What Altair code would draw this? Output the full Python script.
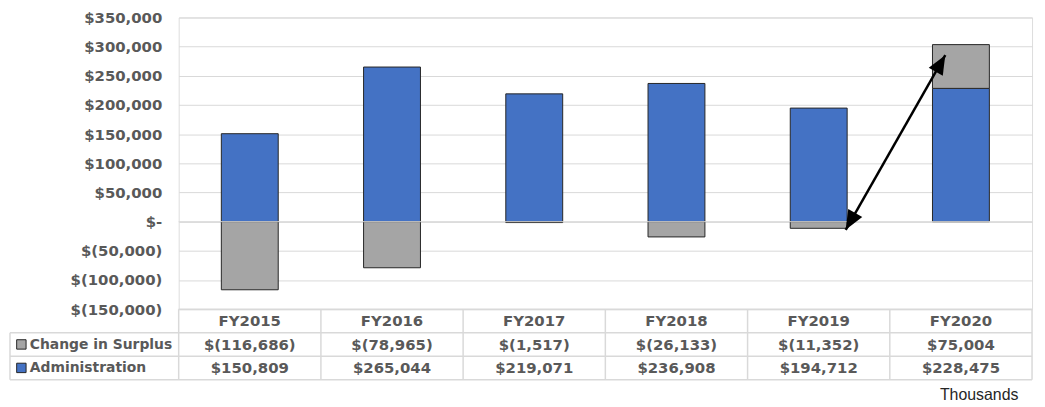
import math
import altair as alt
import pandas as pd

# ---------------- data ----------------
years = ["FY2015", "FY2016", "FY2017", "FY2018", "FY2019", "FY2020"]
administration = [150809, 265044, 219071, 236908, 194712, 228475]
change_in_surplus = [-116686, -78965, -1517, -26133, -11352, 75004]
series_names = ["Change in Surplus", "Administration"]
series_colors = ["#A5A5A5", "#4472C4"]
y_ticks = list(range(-150000, 350001, 50000))
arrow_x = [4.69, 5.39]          # FY2019 -> FY2020 annotation arrow (column units)
arrow_y = [-13900, 285400]
unit_note = "Thousands"

# ---------------- layout constants ----------------
W, H = 860, 294
NCOL = len(years)
Y_DOM = [-150000, 350000]
TEXT = "#595959"
GRIDC = "#D9D9D9"
FONT = "DejaVu Sans"
LABEL_COL = -1.186  # left edge of the table's label column, in column units

def acct(v):
    return f"$({abs(v):,})" if v < 0 else f"${v:,}"

# ---------------- bars ----------------
rows = []
for i, (yr, a, s) in enumerate(zip(years, administration, change_in_surplus)):
    rows.append(dict(year=yr, series="Administration", x=i + 0.3, x2=i + 0.7, y0=0, y1=a))
    base = a if s > 0 else 0
    rows.append(dict(year=yr, series="Change in Surplus", x=i + 0.3, x2=i + 0.7, y0=base, y1=base + s))
bars_df = pd.DataFrame(rows)

xscale = alt.Scale(domain=[0, NCOL], nice=False, zero=False)
yscale = alt.Scale(domain=Y_DOM, nice=False, zero=False)
color_scale = alt.Scale(domain=series_names, range=series_colors)

label_expr = (
    "datum.value < 0 ? '$(' + format(-datum.value, ',') + ')' : "
    "(datum.value == 0 ? '$-\u2007\u2009' : '$' + format(datum.value, ',') + '\u2009')"
)
yaxis = alt.Axis(
    values=y_ticks, labelExpr=label_expr, grid=True, gridColor=GRIDC, gridWidth=1,
    domain=False, ticks=False, labelFont=FONT, labelFontWeight="bold",
    labelFontSize=15, labelColor=TEXT, labelPadding=17, title=None,
    labelOverlap=False, labelBound=False, labelFlush=False,
)

bars = alt.Chart(bars_df).mark_bar(stroke="#262626", strokeWidth=1).encode(
    x=alt.X("x:Q", scale=xscale, axis=None),
    x2="x2:Q",
    y=alt.Y("y0:Q", scale=yscale, axis=yaxis),
    y2="y1:Q",
    color=alt.Color("series:N", scale=color_scale, legend=None),
)

zero_df = pd.DataFrame({"x": [0], "x2": [NCOL], "y": [0]})
zero_line = alt.Chart(zero_df).mark_rule(color=GRIDC, strokeWidth=1).encode(
    x=alt.X("x:Q", scale=xscale, axis=None), x2="x2:Q",
    y=alt.Y("y:Q", scale=yscale, axis=yaxis),
)

# ---------------- arrow ----------------
arrow_df = pd.DataFrame({"x": [arrow_x[0]], "x2": [arrow_x[1]], "y": [arrow_y[0]], "y2": [arrow_y[1]]})
arrow_line = alt.Chart(arrow_df).mark_rule(color="black", strokeWidth=2.5).encode(
    x=alt.X("x:Q", scale=xscale, axis=None), x2="x2:Q",
    y=alt.Y("y:Q", scale=yscale, axis=yaxis), y2="y2:Q",
)
dx_px = (arrow_x[1] - arrow_x[0]) * W / NCOL
dy_px = (arrow_y[1] - arrow_y[0]) * H / (Y_DOM[1] - Y_DOM[0])
ang = math.degrees(math.atan2(dx_px, dy_px))
head_df = pd.DataFrame({"x": arrow_x, "y": arrow_y, "angle": [ang + 180, ang]})
head_shape = "M0,0L-0.42,1L0.42,1Z"
arrow_heads = alt.Chart(head_df).mark_point(
    shape=head_shape, filled=True, color="black", size=1500, opacity=1, strokeWidth=0
).encode(
    x=alt.X("x:Q", scale=xscale, axis=None),
    y=alt.Y("y:Q", scale=yscale, axis=yaxis),
    angle=alt.Angle("angle:Q", scale=None),
)

value_layer = alt.layer(bars, zero_line, arrow_line, arrow_heads)

# ---------------- data table ----------------
tscale = alt.Scale(domain=[0, 3], range=[H, H + 71], nice=False, zero=False)

seg = []
seg.append(dict(x=0, x2=NCOL, y=0, y2=0))
for r in (1, 2, 3):
    seg.append(dict(x=LABEL_COL, x2=NCOL, y=r, y2=r))
for c in range(NCOL + 1):
    seg.append(dict(x=c, x2=c, y=0, y2=3))
seg.append(dict(x=LABEL_COL, x2=LABEL_COL, y=1, y2=3))
seg_df = pd.DataFrame(seg)
table_lines = alt.Chart(seg_df).mark_rule(color=GRIDC, strokeWidth=1.5).encode(
    x=alt.X("x:Q", scale=xscale, axis=None), x2="x2:Q",
    y=alt.Y("y:Q", scale=tscale, axis=None), y2="y2:Q",
)

cells = []
for i, yr in enumerate(years):
    cells.append(dict(x=i + 0.5, r=0.5, t=yr))
    cells.append(dict(x=i + 0.5, r=1.52, t=acct(change_in_surplus[i])))
    cells.append(dict(x=i + 0.5, r=2.52, t=acct(administration[i])))
cells_df = pd.DataFrame(cells)
table_text = alt.Chart(cells_df).mark_text(
    font=FONT, fontWeight="bold", fontSize=15, color=TEXT, align="center", baseline="middle"
).encode(
    x=alt.X("x:Q", scale=xscale, axis=None), y=alt.Y("r:Q", scale=tscale, axis=None), text="t:N"
)

lab_df = pd.DataFrame({"x": [LABEL_COL + 0.139] * 2, "r": [1.52, 2.52], "t": series_names})
row_labels = alt.Chart(lab_df).mark_text(
    font=FONT, fontWeight="bold", fontSize=14, color=TEXT, align="left", baseline="middle"
).encode(
    x=alt.X("x:Q", scale=xscale, axis=None), y=alt.Y("r:Q", scale=tscale, axis=None), text="t:N"
)

key_df = pd.DataFrame({"x": [LABEL_COL + 0.08] * 2, "r": [1.5, 2.5], "series": series_names})
row_keys = alt.Chart(key_df).mark_square(size=90, stroke="#262626", strokeWidth=1, opacity=1).encode(
    x=alt.X("x:Q", scale=xscale, axis=None), y=alt.Y("r:Q", scale=tscale, axis=None),
    color=alt.Color("series:N", scale=color_scale, legend=None),
)

note_df = pd.DataFrame({"x": [5.904], "r": [3.85], "t": [unit_note]})
note = alt.Chart(note_df).mark_text(
    font="Liberation Sans", fontSize=16, color="#262626", align="right", baseline="alphabetic"
).encode(
    x=alt.X("x:Q", scale=xscale, axis=None), y=alt.Y("r:Q", scale=tscale, axis=None), text="t:N"
)

table_layer = alt.layer(table_lines, table_text, row_labels, row_keys, note)

chart = (
    alt.layer(value_layer, table_layer)
    .resolve_scale(y="independent")
    .properties(
        width=W, height=H,
        autosize=alt.AutoSizeParams(type="none"),
        padding={"left": 172, "top": 8, "right": 5, "bottom": 96},
    )
    .configure_view(strokeWidth=0, stroke="transparent")
    .configure_axis(labelOverlap=False)
    .configure(background="white")
)

chart.save("out.html", embed_options={"renderer": "svg", "actions": False})
